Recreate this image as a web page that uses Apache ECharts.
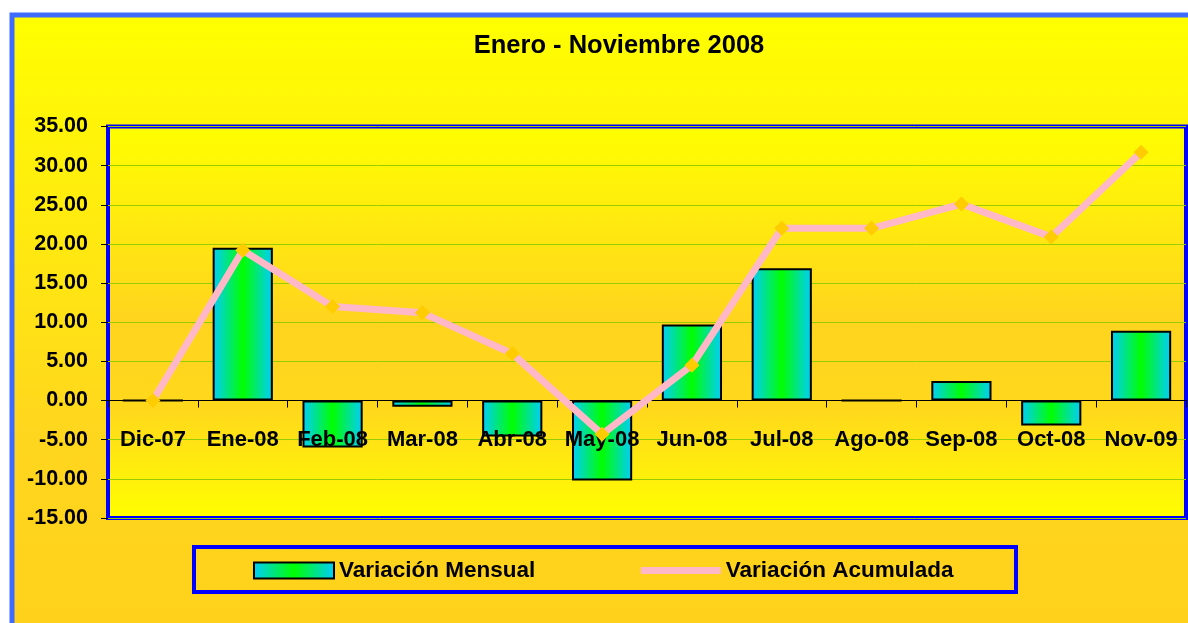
<!DOCTYPE html>
<html>
<head>
<meta charset="utf-8">
<script src="https://cdn.jsdelivr.net/npm/echarts@6/dist/echarts.min.js"></script>
<style>
html,body{margin:0;padding:0;background:#fff;}
#main{width:1188px;height:623px;}
</style>
</head>
<body>
<div id="main"></div>
<script>
// datos
var categorias = ['Dic-07','Ene-08','Feb-08','Mar-08','Abr-08','May-08','Jun-08','Jul-08','Ago-08','Sep-08','Oct-08','Nov-09'];
var varMensual = [0, 19.5, -6.0, -0.8, -4.6, -10.2, 9.7, 16.9, 0, 2.5, -3.2, 8.9];
var varAcumulada = [0, 19.2, 12.0, 11.2, 6.0, -4.3, 4.5, 22.0, 22.0, 25.1, 20.9, 31.7];
var ejeY = {min: -15, max: 35, interval: 5};

var fuente = '"Liberation Sans", Arial, sans-serif';
var myChart = echarts.init(document.getElementById('main'));

var option = {
	animation: false,
	textStyle: {fontFamily: fuente},
	graphic: [
		{//fondo exterior con borde azul claro
			type: 'rect', z: -10, silent: true,
			shape: {x: 12, y: 15, width: 1200, height: 700},
			style: {
				fill: new echarts.graphic.LinearGradient(0, 0, 0, 1, [
					{offset: 0, color: '#FFFF00'},
					{offset: 0.6, color: '#FFD61E'},
					{offset: 1, color: '#FFCF1A'}
				]),
				stroke: '#3F6CFF', lineWidth: 5
			}
		},
		{//caja de la leyenda
			type: 'rect', z: -5, silent: true,
			shape: {x: 194, y: 547, width: 822, height: 45},
			style: {fill: 'transparent', stroke: '#0000FF', lineWidth: 4}
		}
	],
	title: {
		text: 'Enero - Noviembre 2008',
		left: 614, top: 28, textAlign: 'center',
		textStyle: {fontFamily: fuente, fontWeight: 'bold', fontSize: 25.5, color: '#000'}
	},
	legend: {
		left: 248, top: 554,
		itemWidth: 80, itemHeight: 16, itemGap: 102,
		textStyle: {fontFamily: fuente, fontWeight: 'bold', fontSize: 22.5, color: '#000'},
		data: [
			{name: 'Variación Mensual', icon: 'rect'},
			{name: 'Variación Acumulada', itemStyle: {opacity: 0}, lineStyle: {width: 7, color: '#FFB8C8'}}
		]
	},
	grid: {
		left: 108, right: 2, top: 126.5, bottom: 105,
		show: true,
		borderColor: '#0000FF', borderWidth: 4,
		backgroundColor: new echarts.graphic.LinearGradient(0, 0, 0, 1, [
			{offset: 0, color: '#FFFF00'},
			{offset: 0.5, color: '#FFD41E'},
			{offset: 0.72, color: '#FFD81C'},
			{offset: 1, color: '#FFFF00'}
		])
	},
	xAxis: {
		type: 'category',
		data: categorias,
		z: 3,//etiquetas por encima de las barras
		axisLine: {onZero: true, lineStyle: {color: '#000', width: 1}},
		axisTick: {show: true, length: 7, lineStyle: {color: '#000'}},
		//las etiquetas se quedan abajo, se suben con margen negativo
		axisLabel: {margin: -89, fontFamily: fuente, fontWeight: 'bold', fontSize: 22, color: '#000', interval: 0}
	},
	yAxis: {
		type: 'value',
		min: ejeY.min, max: ejeY.max, interval: ejeY.interval,
		axisLine: {show: false},
		axisTick: {show: true, length: 7, lineStyle: {color: '#000'}},
		axisLabel: {
			margin: 20, fontFamily: fuente, fontWeight: 'bold', fontSize: 21.5, color: '#000',
			formatter: function(v){ return v.toFixed(2); }
		},
		splitLine: {lineStyle: {color: '#99CC00', width: 1}}
	},
	series: [
		{
			name: 'Variación Mensual',
			type: 'bar',
			data: varMensual,
			barWidth: '67%',
			z: 2,
			itemStyle: {
				color: new echarts.graphic.LinearGradient(0, 0, 1, 0, [
					{offset: 0, color: '#00CCFF'},
					{offset: 0.5, color: '#00FF00'},
					{offset: 1, color: '#00CCFF'}
				]),
				borderColor: '#000', borderWidth: 2
			}
		},
		{
			name: 'Variación Acumulada',
			type: 'line',
			data: varAcumulada,
			symbol: 'diamond',
			symbolSize: 15,
			itemStyle: {color: '#FFCC00'},
			lineStyle: {color: '#FFB8C8', width: 7},
			z: 5
		}
	]
};
myChart.setOption(option);
</script>
</body>
</html>
